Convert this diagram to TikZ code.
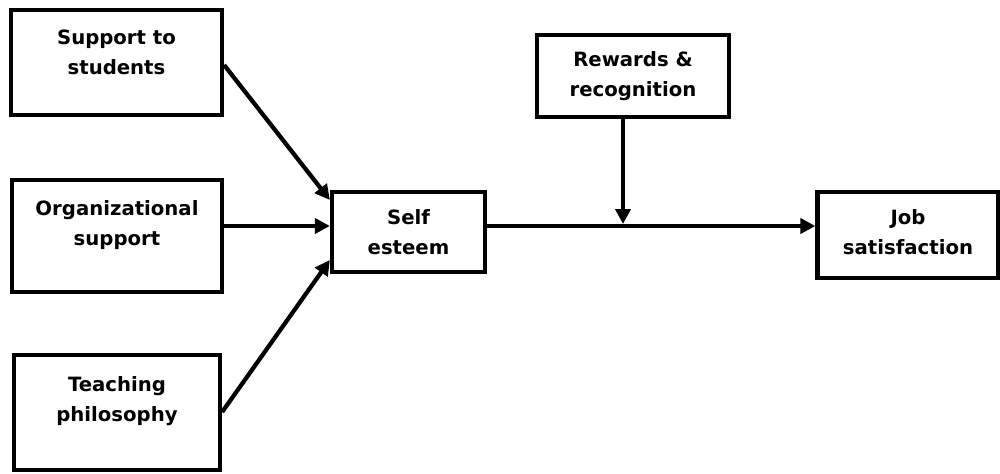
\documentclass[tikz,border=0pt]{standalone}
\usepackage{fontspec}
\setmainfont{DejaVu Sans}
\usetikzlibrary{arrows.meta,calc}
\begin{document}
\begin{tikzpicture}[
  box/.style={draw=black, line width=0.085cm, fill=white, inner sep=0pt},
  lbl/.style={align=center, font=\bfseries\fontsize{11.2}{17}\selectfont, inner sep=0pt},
  arr/.style={line width=0.085cm, -{Triangle[length=0.3cm,width=0.3cm]}},
  ln/.style={line width=0.085cm}
]
\useasboundingbox (0,0) rectangle (20,9.46);
% boxes
\node[box, minimum width=4.22cm, minimum height=2.10cm] (sup) at (2.33,8.21) {};
\node[lbl] (suptxt) at (2.33,8.42) {Support to\\students};
\node[box, minimum width=4.20cm, minimum height=2.24cm] (org) at (2.34,4.74) {};
\node[lbl] (orgtxt) at (2.34,4.96) {Organizational\\support};
\node[box, minimum width=4.12cm, minimum height=2.30cm] (tea) at (2.34,1.21) {};
\node[lbl] (teatxt) at (2.34,1.44) {Teaching\\philosophy};
\node[box, minimum width=3.06cm, minimum height=1.60cm] (self) at (8.17,4.82) {};
\node[lbl] (selftxt) at (8.17,4.82) {Self\\esteem};
\node[box, minimum width=3.84cm, minimum height=1.64cm] (rew) at (12.66,7.94) {};
\node[lbl] (rewtxt) at (12.66,7.94) {Rewards \&\\recognition};
\node[box, minimum width=3.62cm, minimum height=1.72cm] (job) at (18.16,4.76) {};
\node[lbl] (jobtxt) at (18.16,4.82) {Job\\satisfaction};
% connectors
\draw[arr] ([yshift=-0.05cm]sup.east) -- ([yshift=0.64cm]self.west);
\draw[arr] ([yshift=0.20cm]org.east) -- ([yshift=0.12cm]self.west);
\draw[arr] ([yshift=0.01cm]tea.east) -- ([yshift=-0.56cm]self.west);
\draw[arr] ([yshift=0.12cm]self.east) -- ([yshift=0.12cm]self.east -| job.west);
\coordinate (meet) at ([xshift=-0.2cm,yshift=0.16cm]rew.south |- self.east);
\draw[arr] ([xshift=-0.2cm]rew.south) -- (meet);
\end{tikzpicture}
\end{document}
